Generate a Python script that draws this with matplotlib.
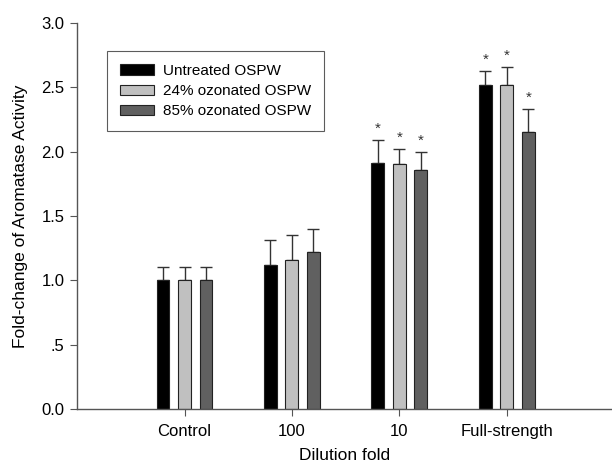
import matplotlib

matplotlib.use("Agg")
import matplotlib.pyplot as plt
import numpy as np

groups = ["Control", "100", "10", "Full-strength"]
series = ["Untreated OSPW", "24% ozonated OSPW", "85% ozonated OSPW"]
colors = ["#000000", "#c0c0c0", "#606060"]

means = [
    [1.00, 1.12, 1.91, 2.52],
    [1.00, 1.16, 1.905, 2.515],
    [1.00, 1.22, 1.86, 2.155],
]
errs = [
    [0.10, 0.19, 0.18, 0.11],
    [0.10, 0.19, 0.115, 0.14],
    [0.10, 0.18, 0.135, 0.175],
]
signif = [
    [False, False, True, True],
    [False, False, True, True],
    [False, False, True, True],
]

plt.rcParams["font.family"] = ["Liberation Sans", "DejaVu Sans"]

fig = plt.figure(figsize=(6.12, 4.69), dpi=100)
ax = fig.add_axes([0.126, 0.128, 0.874, 0.823])

x = np.arange(len(groups))
width = 0.12
step = 0.2
for i, (name, color) in enumerate(zip(series, colors)):
    pos = x + (i - 1) * step
    ax.bar(pos, means[i], width, color=color, edgecolor="#222222", linewidth=0.8,
           label=name, zorder=2)
    ax.errorbar(pos, means[i], yerr=[np.zeros(len(groups)), errs[i]], fmt="none",
                ecolor="#333333", elinewidth=1.0, capsize=4, capthick=1.0, zorder=1)
    for p, m, e, s in zip(pos, means[i], errs[i], signif[i]):
        if s:
            ax.annotate("*", (p, m + e), xytext=(0, 3), textcoords="offset points",
                        ha="center", va="bottom", fontsize=11, color="#333333")

ax.set_xlim(-1, 3.98)
ax.set_ylim(0, 3.0)
ax.set_xticks(x)
ax.set_xticklabels(groups, fontsize=12)
ax.set_yticks([0, 0.5, 1.0, 1.5, 2.0, 2.5, 3.0])
ax.set_yticklabels(["0.0", ".5", "1.0", "1.5", "2.0", "2.5", "3.0"], fontsize=12)
ax.tick_params(direction="out", length=5, width=0.8, color="#555555", pad=4)
ax.tick_params(axis="x", pad=6)
for side in ["top", "right"]:
    ax.spines[side].set_visible(False)
for side in ["left", "bottom"]:
    ax.spines[side].set_color("#555555")
    ax.spines[side].set_linewidth(1.0)

ax.set_xlabel("Dilution fold", fontsize=12.5)
ax.set_ylabel("Fold-change of Aromatase Activity", fontsize=12.5)
ax.xaxis.set_label_coords(0.5, -0.102)
ax.yaxis.set_label_coords(-0.092, 0.5)

leg = ax.legend(loc="upper left", bbox_to_anchor=(0.056, 0.927), fontsize=11,
                frameon=True, fancybox=False, edgecolor="#333333",
                handlelength=2.2, handleheight=0.7, borderpad=0.85,
                labelspacing=0.4, handletextpad=0.6, borderaxespad=0)
leg.get_frame().set_linewidth(0.8)

fig.savefig("out.png", dpi=100)
